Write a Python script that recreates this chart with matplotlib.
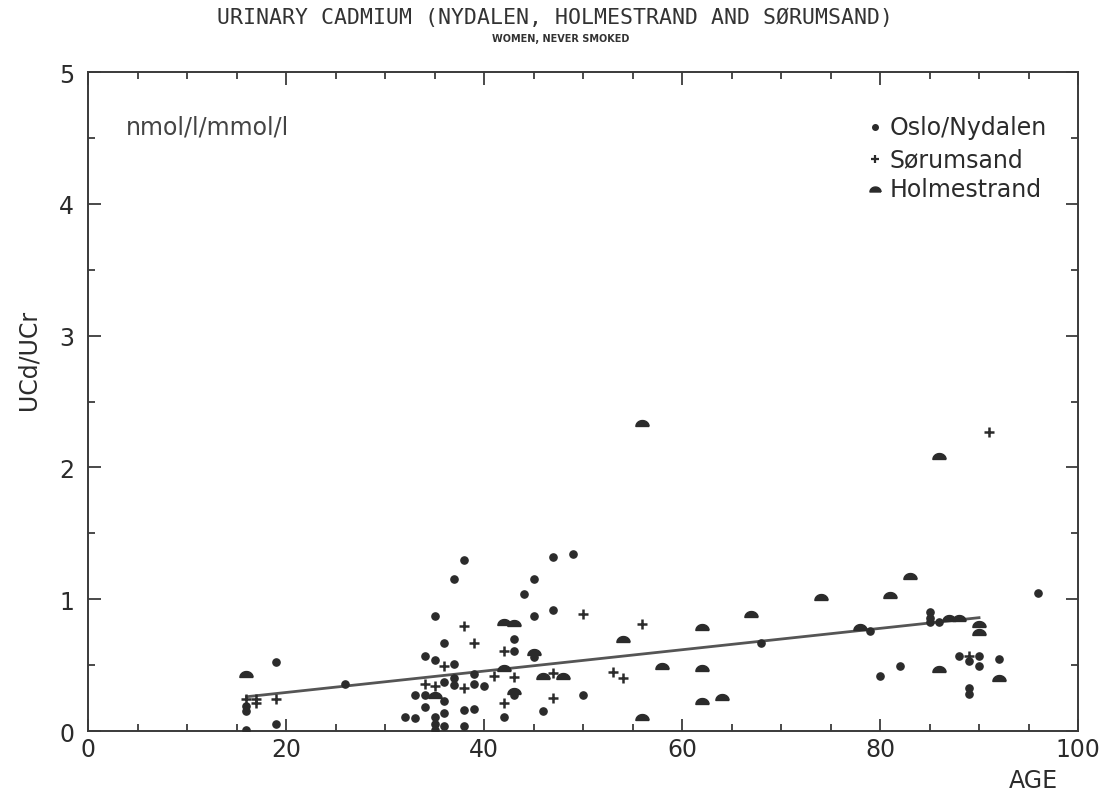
import numpy as np
import matplotlib
matplotlib.use("Agg")
import matplotlib.pyplot as plt
from matplotlib.path import Path
from matplotlib.ticker import MultipleLocator

# Oslo/Nydalen (circles)
oslo_age = [16, 16, 16, 19, 19, 26, 32, 33, 33, 34, 34, 34, 35, 35, 35, 35, 35,
            36, 36, 36, 36, 36, 37, 37, 37, 37, 38, 38, 38, 39, 39, 39, 40, 42,
            43, 43, 43, 44, 45, 45, 45, 46, 47, 47, 49, 50, 68, 79, 80, 82, 85,
            85, 85, 86, 88, 89, 89, 89, 90, 90, 92, 96]
oslo_val = [0.19, 0.15, 0.01, 0.52, 0.05, 0.36, 0.11, 0.10, 0.27, 0.27, 0.18, 0.57,
            0.54, 0.87, 0.11, 0.05, 0.01, 0.67, 0.37, 0.23, 0.14, 0.04, 1.15, 0.51,
            0.40, 0.35, 1.30, 0.16, 0.04, 0.43, 0.36, 0.17, 0.34, 0.11, 0.70, 0.61,
            0.27, 1.04, 1.15, 0.87, 0.56, 0.15, 1.32, 0.92, 1.34, 0.27, 0.67, 0.76,
            0.42, 0.49, 0.90, 0.86, 0.83, 0.83, 0.57, 0.53, 0.33, 0.28, 0.57, 0.49,
            0.55, 1.05]

# Sørumsand (crosses)
sorum_age = [16, 17, 17, 19, 34, 35, 36, 38, 38, 39, 41, 42, 42, 43, 47, 47, 50,
             53, 54, 56, 89, 91]
sorum_val = [0.24, 0.24, 0.21, 0.24, 0.36, 0.34, 0.49, 0.80, 0.33, 0.67, 0.42, 0.61,
             0.21, 0.41, 0.44, 0.25, 0.89, 0.45, 0.40, 0.81, 0.57, 2.27]

# Holmestrand (mounds)
holm_age = [16, 35, 42, 43, 42, 43, 45, 46, 48, 54, 56, 56, 58, 62, 62, 62, 64,
            67, 74, 78, 81, 83, 86, 86, 87, 88, 90, 90, 92]
holm_val = [0.43, 0.27, 0.83, 0.82, 0.48, 0.30, 0.60, 0.42, 0.42, 0.70, 2.34, 0.11,
            0.49, 0.79, 0.48, 0.23, 0.26, 0.89, 1.02, 0.79, 1.03, 1.18, 2.09, 0.47,
            0.86, 0.86, 0.81, 0.75, 0.40]

# regression line end points
fit_age = [16, 90]
fit_val = [0.26, 0.86]

ink = "#2b2b2b"

# flattened half-disc marker like the plotter's triangle
t = np.linspace(0, np.pi, 20)
mound = Path(np.column_stack([np.cos(t), 0.9 * np.sin(t) - 0.45]).tolist() + [[-1, -0.45], [1, -0.45]])

fig = plt.figure(figsize=(11.1, 8.03), dpi=100)
ax = fig.add_axes([0.0793, 0.0884, 0.8919, 0.8206])

ax.plot(fit_age, fit_val, color="#555555", lw=2.0, zorder=2)
ax.plot(oslo_age, oslo_val, "o", ms=5.2, color=ink, mec=ink, zorder=3)
ax.plot(sorum_age, sorum_val, "+", ms=7, mew=1.8, color=ink, zorder=3)
ax.plot(holm_age, holm_val, ls="none", marker=mound, ms=9.5, color=ink, mec=ink, zorder=3)

ax.set_xlim(0, 100)
ax.set_ylim(0, 5)
ax.xaxis.set_major_locator(MultipleLocator(20))
ax.xaxis.set_minor_locator(MultipleLocator(5))
ax.yaxis.set_major_locator(MultipleLocator(1))
ax.yaxis.set_minor_locator(MultipleLocator(0.5))
ax.tick_params(which="both", direction="in", top=True, right=True, colors=ink,
               labelsize=17, width=1.2)
ax.tick_params(which="major", length=9)
ax.tick_params(which="minor", length=5)
ax.tick_params(axis="x", pad=4)
ax.tick_params(axis="y", pad=10)
for s in ax.spines.values():
    s.set_color("#3a3a3a")
    s.set_linewidth(1.4)

ax.set_ylabel("UCd/UCr", fontsize=17, color=ink)
ax.yaxis.set_label_coords(-0.048, 0.565)
ax.text(0.98, -0.075, "AGE", transform=ax.transAxes, ha="right", va="center",
        fontsize=17, color=ink)
ax.text(0.038, 0.917, "nmol/l/mmol/l", transform=ax.transAxes, ha="left",
        va="center", fontsize=17, color="#444444")

# legend drawn by hand as in the original
leg_y = [0.917, 0.868, 0.822]
leg_txt = ["Oslo/Nydalen", "Sørumsand", "Holmestrand"]
ax.plot([0.795], [leg_y[0]], "o", ms=4, color=ink, transform=ax.transAxes, clip_on=False)
ax.plot([0.795], [leg_y[1]], "+", ms=6, mew=1.6, color=ink, transform=ax.transAxes, clip_on=False)
ax.plot([0.795], [leg_y[2]], ls="none", marker=mound, ms=8, color=ink, transform=ax.transAxes, clip_on=False)
for yy, tt in zip(leg_y, leg_txt):
    ax.text(0.81, yy, tt, transform=ax.transAxes, ha="left", va="center",
            fontsize=17, color=ink)

fig.text(0.5, 0.977, "URINARY CADMIUM (NYDALEN, HOLMESTRAND AND SØRUMSAND)",
         ha="center", va="center", fontsize=15.5, family="DejaVu Sans Mono",
         color="#333333")
fig.text(0.505, 0.951, "WOMEN, NEVER SMOKED", ha="center", va="center",
         fontsize=7, weight="bold", color="#333333")

fig.savefig("out.png", dpi=100)
